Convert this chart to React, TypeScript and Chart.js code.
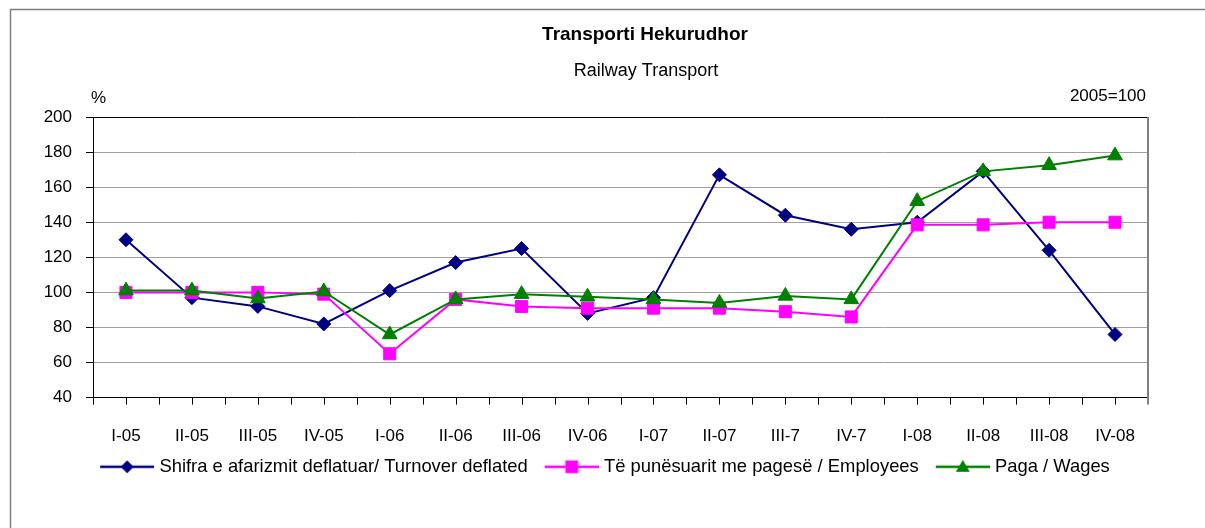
import React, { useEffect, useRef } from 'react';
import { Chart, registerables } from 'chart.js';

Chart.register(...registerables);

const categories = ['I-05', 'II-05', 'III-05', 'IV-05', 'I-06', 'II-06', 'III-06', 'IV-06', 'I-07', 'II-07', 'III-7', 'IV-7', 'I-08', 'II-08', 'III-08', 'IV-08'];
const turnover = [130, 97, 92, 82, 101, 117, 125, 88, 97, 167, 144, 136, 140, 169, 124, 76];
const employees = [100, 100, 100, 99, 65, 96, 92, 91, 91, 91, 89, 86, 138.5, 138.5, 140, 140];
const wages = [101, 101, 96.5, 100.5, 76, 96, 99, 97.5, 96, 94, 98, 96, 152, 169, 172.5, 178];
const seriesNames = [
  'Shifra e afarizmit deflatuar/ Turnover deflated',
  'Të punësuarit me pagesë / Employees',
  'Paga / Wages',
];
const yMin = 40;
const yMax = 200;
const yStep = 20;
const titleText = 'Transporti Hekurudhor';
const subtitleText = 'Railway Transport';
const unitText = '%';
const baseText = '2005=100';

const FONT = "'Liberation Sans', Arial, sans-serif";

function drawMarker(ctx: CanvasRenderingContext2D, style: string, x: number, y: number, r: number) {
  ctx.beginPath();
  if (style === 'rectRot') {
    ctx.moveTo(x, y - r);
    ctx.lineTo(x + r, y);
    ctx.lineTo(x, y + r);
    ctx.lineTo(x - r, y);
  } else if (style === 'rect') {
    const s = r * Math.SQRT1_2;
    ctx.rect(x - s, y - s, 2 * s, 2 * s);
  } else {
    ctx.moveTo(x, y - r);
    ctx.lineTo(x + r * Math.sin((2 * Math.PI) / 3), y + r * 0.5);
    ctx.lineTo(x - r * Math.sin((2 * Math.PI) / 3), y + r * 0.5);
  }
  ctx.closePath();
  ctx.fill();
}

// legend icon: 63px wide image; visible line occupies x 9..63, marker at 36
function makeIcon(color: string, style: string, r: number) {
  const c = document.createElement('canvas');
  c.width = 63;
  c.height = 18;
  const ctx = c.getContext('2d')!;
  ctx.strokeStyle = color;
  ctx.lineWidth = 2.5;
  ctx.beginPath();
  ctx.moveTo(9, 9);
  ctx.lineTo(63, 9);
  ctx.stroke();
  ctx.fillStyle = color;
  drawMarker(ctx, style, 36, style === 'triangle' ? 10 : 9, r);
  return c;
}

const decorPlugin = {
  id: 'decor',
  afterDraw(chart: any) {
    const ctx = chart.ctx as CanvasRenderingContext2D;
    const area = chart.chartArea;
    ctx.save();
    // outer frame
    ctx.strokeStyle = '#7f7f7f';
    ctx.lineWidth = 1.5;
    ctx.beginPath();
    ctx.moveTo(10.5, 540);
    ctx.lineTo(10.5, 9.5);
    ctx.lineTo(1220, 9.5);
    ctx.stroke();
    // right border of plot
    ctx.strokeStyle = '#808080';
    ctx.lineWidth = 2;
    ctx.beginPath();
    ctx.moveTo(area.right, area.top);
    ctx.lineTo(area.right, area.bottom + 7);
    ctx.stroke();
    // x tick marks (boundaries and centres)
    ctx.strokeStyle = '#000';
    ctx.lineWidth = 1;
    const n = categories.length * 2;
    for (let i = 0; i < n; i++) {
      const x = Math.round(area.left + (i * (area.right - area.left)) / n) + 0.5;
      ctx.beginPath();
      ctx.moveTo(x, area.bottom);
      ctx.lineTo(x, area.bottom + 7);
      ctx.stroke();
    }
    // texts
    ctx.fillStyle = '#000';
    ctx.textBaseline = 'middle';
    ctx.textAlign = 'center';
    ctx.font = `bold 19px ${FONT}`;
    ctx.fillText(titleText, 645, 35);
    ctx.font = `18px ${FONT}`;
    ctx.fillText(subtitleText, 646, 71);
    ctx.font = `17px ${FONT}`;
    ctx.textAlign = 'left';
    ctx.fillText(unitText, 91, 98);
    ctx.textAlign = 'right';
    ctx.fillText(baseText, 1146, 96);
    ctx.restore();
  },
};

export default function App() {
  const ref = useRef<HTMLCanvasElement>(null);
  useEffect(() => {
    if (!ref.current) return;
    Chart.defaults.font.family = FONT;
    Chart.defaults.color = '#000';
    const icons = [
      makeIcon('#000080', 'rectRot', 6.5),
      makeIcon('#ff00ff', 'rect', 9),
      makeIcon('#008000', 'triangle', 8),
    ];
    const chart = new Chart(ref.current, {
      type: 'line',
      data: {
        labels: categories,
        datasets: [
          {
            label: seriesNames[0],
            data: turnover,
            borderColor: '#000080',
            backgroundColor: '#000080',
            borderWidth: 2,
            pointStyle: 'rectRot',
            pointRadius: 7,
            pointBorderWidth: 1,
            order: 3,
            tension: 0,
          },
          {
            label: seriesNames[1],
            data: employees,
            borderColor: '#ff00ff',
            backgroundColor: '#ff00ff',
            borderWidth: 2,
            pointStyle: 'rect',
            pointRadius: 8.5,
            pointBorderWidth: 1,
            order: 2,
            tension: 0,
          },
          {
            label: seriesNames[2],
            data: wages,
            borderColor: '#008000',
            backgroundColor: '#008000',
            borderWidth: 2,
            pointStyle: 'triangle',
            pointRadius: 8.5,
            pointBorderWidth: 1,
            order: 1,
            tension: 0,
          },
        ],
      },
      options: {
        animation: false,
        responsive: false,
        maintainAspectRatio: false,
        layout: { padding: { left: 10, right: 10, top: 117, bottom: 42 } },
        scales: {
          x: {
            type: 'category',
            offset: true,
            grid: { display: false, drawTicks: false },
            border: { display: true, color: '#000', width: 1 },
            ticks: { padding: 29, font: { size: 17 }, maxRotation: 0, autoSkip: false, color: '#000' },
            afterFit: (s: any) => { s.height = 48; },
          },
          y: {
            type: 'linear',
            position: 'left',
            min: yMin,
            max: yMax,
            ticks: { stepSize: yStep, padding: 14, font: { size: 17 }, color: '#000' },
            grid: {
              color: (c: any) => (c.tick && c.tick.value === yMax ? '#000' : '#a0a0a0'),
              tickColor: '#000',
              tickLength: 7,
              lineWidth: 1,
            },
            border: { display: true, color: '#000', width: 1 },
            afterFit: (s: any) => { s.width = 83; },
          },
          y2: {
            type: 'linear',
            position: 'right',
            min: yMin,
            max: yMax,
            display: true,
            ticks: { display: false },
            grid: { drawOnChartArea: false, drawTicks: false },
            border: { display: false },
            afterFit: (s: any) => { s.width = 47; },
          },
        },
        plugins: {
          title: { display: false },
          tooltip: { enabled: false },
          legend: {
            display: true,
            position: 'bottom',
            labels: {
              usePointStyle: true,
              pointStyleWidth: 55,
              padding: 12,
              font: { size: 18.4 },
              color: '#000',
              sort: (a: any, b: any) => a.datasetIndex - b.datasetIndex,
              generateLabels: (ch: any) => {
                const base = Chart.defaults.plugins.legend.labels.generateLabels(ch);
                return base.map((item: any) => ({ ...item, pointStyle: icons[item.datasetIndex], lineWidth: 0 }));
              },
            },
          },
        },
      },
      plugins: [decorPlugin],
    });
    return () => chart.destroy();
  }, []);
  return (
    <div style={{ position: 'fixed', left: 0, top: 0, width: 1205, height: 528, background: '#fff' }}>
      <canvas ref={ref} width={1205} height={528} style={{ display: 'block', width: 1205, height: 528 }} />
    </div>
  );
}
